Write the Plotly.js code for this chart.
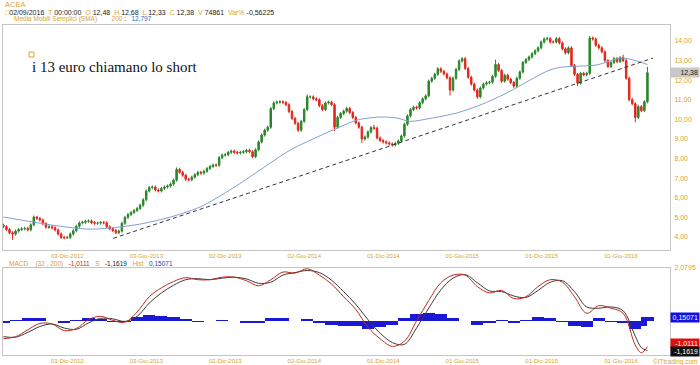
<!DOCTYPE html>
<html><head><meta charset="utf-8">
<script src="https://cdn.plot.ly/plotly-3.0.1.min.js"></script>
<style>html,body{margin:0;padding:0;background:#fff;}#chart{width:700px;height:365px;}</style>
</head><body><div id="chart"></div>
<script>
// ---------- data (weekly candles) ----------
const symbol = 'ACEA';
const candleDates = [
'2012-08-10','2012-08-17','2012-08-24','2012-08-31','2012-09-07','2012-09-14','2012-09-21','2012-09-28','2012-10-05','2012-10-12','2012-10-19','2012-10-26','2012-11-02','2012-11-09','2012-11-16','2012-11-23','2012-11-30','2012-12-07','2012-12-14','2012-12-21','2012-12-28',
'2013-01-04','2013-01-11','2013-01-18','2013-01-25','2013-02-01','2013-02-08','2013-02-15','2013-02-22','2013-03-01','2013-03-08','2013-03-15','2013-03-22','2013-03-29','2013-04-05','2013-04-12','2013-04-19','2013-04-26','2013-05-03','2013-05-10','2013-05-17','2013-05-24','2013-05-31','2013-06-07','2013-06-14','2013-06-21','2013-06-28','2013-07-05','2013-07-12','2013-07-19','2013-07-26','2013-08-02','2013-08-09','2013-08-16','2013-08-23','2013-08-30','2013-09-06','2013-09-13','2013-09-20','2013-09-27','2013-10-04','2013-10-11','2013-10-18','2013-10-25','2013-11-01','2013-11-08','2013-11-15','2013-11-22','2013-11-29','2013-12-06','2013-12-13','2013-12-20','2013-12-27',
'2014-01-03','2014-01-10','2014-01-17','2014-01-24','2014-01-31','2014-02-07','2014-02-14','2014-02-21','2014-02-28','2014-03-07','2014-03-14','2014-03-21','2014-03-28','2014-04-04','2014-04-11','2014-04-18','2014-04-25','2014-05-02','2014-05-09','2014-05-16','2014-05-23','2014-05-30','2014-06-06','2014-06-13','2014-06-20','2014-06-27','2014-07-04','2014-07-11','2014-07-18','2014-07-25','2014-08-01','2014-08-08','2014-08-15','2014-08-22','2014-08-29','2014-09-05','2014-09-12','2014-09-19','2014-09-26','2014-10-03','2014-10-10','2014-10-17','2014-10-24','2014-10-31','2014-11-07','2014-11-14','2014-11-21','2014-11-28','2014-12-05','2014-12-12','2014-12-19','2014-12-26',
'2015-01-02','2015-01-09','2015-01-16','2015-01-23','2015-01-30','2015-02-06','2015-02-13','2015-02-20','2015-02-27','2015-03-06','2015-03-13','2015-03-20','2015-03-27','2015-04-03','2015-04-10','2015-04-17','2015-04-24','2015-05-01','2015-05-08','2015-05-15','2015-05-22','2015-05-29','2015-06-05','2015-06-12','2015-06-19','2015-06-26','2015-07-03','2015-07-10','2015-07-17','2015-07-24','2015-07-31','2015-08-07','2015-08-14','2015-08-21','2015-08-28','2015-09-04','2015-09-11','2015-09-18','2015-09-25','2015-10-02','2015-10-09','2015-10-16','2015-10-23','2015-10-30','2015-11-06','2015-11-13','2015-11-20','2015-11-27','2015-12-04','2015-12-11','2015-12-18','2015-12-25',
'2016-01-01','2016-01-08','2016-01-15','2016-01-22','2016-01-29','2016-02-05','2016-02-12','2016-02-19','2016-02-26','2016-03-04','2016-03-11','2016-03-18','2016-03-25','2016-04-01','2016-04-08','2016-04-15','2016-04-22','2016-04-29','2016-05-06','2016-05-13','2016-05-20','2016-05-27','2016-06-03','2016-06-10','2016-06-17','2016-06-24','2016-07-01','2016-07-08','2016-07-15','2016-07-22','2016-07-29','2016-08-05','2016-08-12','2016-08-19','2016-08-26','2016-09-02'];
const openP = [4.60,4.53,4.38,4.22,4.15,4.30,4.38,4.42,4.44,4.37,
4.62,5.02,4.95,4.87,4.68,4.50,4.52,4.47,4.36,4.15,
3.98,3.96,3.98,4.15,4.32,4.55,4.72,4.75,4.80,4.82,
4.74,4.70,4.71,4.74,4.72,4.52,4.42,4.33,4.22,4.30,
4.70,5.00,5.15,5.25,5.35,5.46,5.62,5.90,6.35,6.52,
6.55,6.40,6.35,6.48,6.55,6.60,6.70,6.90,7.45,7.30,
7.15,6.95,6.92,7.05,7.18,7.30,7.26,7.35,7.50,7.60,
7.67,7.66,8.05,8.18,8.20,8.32,8.38,8.32,8.29,8.32,
8.35,8.42,8.35,8.10,8.45,8.85,9.20,9.45,9.60,10.55,
10.84,10.88,10.90,10.86,10.75,10.40,10.05,9.80,9.45,9.90,
10.50,11.15,11.15,11.05,11.00,10.70,10.50,10.84,10.88,10.75,
9.60,10.10,10.30,10.42,10.56,10.35,10.10,9.82,9.60,9.00,
9.10,9.36,9.58,9.55,9.05,8.92,8.85,8.80,8.75,8.70,
8.78,8.90,9.15,9.75,10.18,10.50,10.62,10.58,10.85,11.05,
11.20,11.95,12.10,12.30,12.58,12.45,12.32,12.12,11.50,12.10,
12.55,12.98,13.10,12.60,12.15,11.80,11.50,11.15,11.60,11.80,
11.87,11.90,12.20,12.80,12.50,11.95,12.25,12.05,11.88,11.70,
12.10,12.42,12.90,13.05,13.18,13.35,13.50,13.65,13.95,14.10,
14.12,13.95,13.95,14.12,13.90,13.60,13.40,13.65,12.75,12.30,
11.85,12.35,12.28,12.35,14.15,14.10,13.78,13.65,13.45,13.00,
12.70,12.90,13.10,12.95,13.15,13.00,12.10,11.00,10.80,10.10,
10.65,10.45,10.90];
const highP = [4.68,4.61,4.46,4.30,4.38,4.46,4.50,4.52,4.52,4.70,
5.10,5.08,5.03,4.95,4.76,4.60,4.60,4.55,4.44,4.23,
4.06,4.06,4.23,4.40,4.63,4.80,4.83,4.88,4.90,4.90,
4.82,4.79,4.82,4.82,4.80,4.60,4.50,4.41,4.38,4.78,
5.08,5.23,5.33,5.43,5.54,5.70,5.98,6.43,6.60,6.63,
6.63,6.48,6.56,6.63,6.68,6.78,6.98,7.55,7.53,7.38,
7.23,7.03,7.13,7.26,7.38,7.38,7.43,7.58,7.68,7.75,
7.75,8.13,8.26,8.28,8.40,8.46,8.46,8.40,8.40,8.43,
8.50,8.50,8.43,8.53,8.93,9.28,9.53,9.68,10.63,10.92,
10.96,10.98,10.98,10.94,10.83,10.48,10.13,9.88,9.98,10.58,
11.28,11.23,11.23,11.13,11.08,10.78,10.92,10.96,10.96,10.83,
10.18,10.38,10.50,10.64,10.64,10.43,10.18,9.90,9.68,9.18,
9.44,9.66,9.72,9.63,9.13,9.00,8.93,8.88,8.83,8.86,
8.98,9.23,9.83,10.26,10.58,10.70,10.70,10.93,11.13,11.28,
12.03,12.18,12.38,12.66,12.66,12.53,12.40,12.20,12.18,12.63,
13.06,13.18,13.18,12.68,12.23,11.88,11.58,11.68,11.88,11.95,
11.98,12.28,13.05,12.88,12.58,12.33,12.33,12.13,11.96,12.18,
12.50,12.98,13.13,13.26,13.43,13.58,13.73,14.03,14.18,14.22,
14.20,14.03,14.20,14.20,13.98,13.68,13.73,13.73,12.83,12.38,
12.43,12.43,12.43,14.25,14.23,14.18,13.86,13.73,13.53,13.08,
12.98,13.18,13.18,13.23,13.30,13.08,12.18,11.10,10.88,10.75,
10.73,10.98,12.68];
const lowP = [4.45,4.30,4.14,3.85,4.07,4.22,4.30,4.34,4.29,4.29,
4.54,4.87,4.79,4.60,4.42,4.42,4.39,4.28,4.07,3.90,
3.88,3.90,3.90,4.07,4.24,4.47,4.64,4.67,4.72,4.66,
4.62,4.62,4.63,4.64,4.44,4.34,4.25,4.14,4.14,4.22,
4.62,4.92,5.07,5.17,5.27,5.38,5.54,5.82,6.27,6.44,
6.32,6.27,6.27,6.40,6.47,6.52,6.62,6.82,7.22,7.07,
6.87,6.84,6.84,6.97,7.10,7.18,7.18,7.27,7.42,7.52,
7.58,7.58,7.97,8.10,8.12,8.24,8.24,8.21,8.21,8.24,
8.27,8.27,8.02,8.02,8.37,8.77,9.12,9.37,9.52,10.47,
10.76,10.80,10.78,10.67,10.32,9.97,9.72,9.36,9.37,9.82,
10.42,11.07,10.97,10.92,10.62,10.42,10.42,10.76,10.67,9.40,
9.52,10.02,10.22,10.34,10.27,10.02,9.74,9.52,8.80,8.92,
9.02,9.28,9.47,8.97,8.84,8.77,8.72,8.67,8.62,8.62,
8.70,8.82,9.07,9.67,10.10,10.42,10.50,10.50,10.77,10.97,
11.12,11.87,12.02,12.22,12.37,12.24,12.04,11.22,11.42,12.02,
12.47,12.90,12.52,12.07,11.72,11.42,11.05,11.07,11.52,11.72,
11.79,11.82,12.12,12.42,11.87,11.87,11.97,11.80,11.60,11.62,
12.02,12.34,12.82,12.97,13.10,13.27,13.42,13.57,13.87,14.02,
13.87,13.87,13.87,13.82,13.52,13.32,13.32,12.67,12.22,11.70,
11.77,12.20,12.20,12.27,14.02,13.70,13.57,13.37,12.92,12.62,
12.62,12.82,12.87,12.87,12.92,12.02,10.92,10.72,9.85,10.02,
10.37,10.37,10.82];
const closeP = [4.53,4.38,4.22,4.15,4.30,4.38,4.42,4.44,4.37,4.62,
5.02,4.95,4.87,4.68,4.50,4.52,4.47,4.36,4.15,3.98,
3.96,3.98,4.15,4.32,4.55,4.72,4.75,4.80,4.82,4.74,
4.70,4.71,4.74,4.72,4.52,4.42,4.33,4.22,4.30,4.70,
5.00,5.15,5.25,5.35,5.46,5.62,5.90,6.35,6.52,6.55,
6.40,6.35,6.48,6.55,6.60,6.70,6.90,7.45,7.30,7.15,
6.95,6.92,7.05,7.18,7.30,7.26,7.35,7.50,7.60,7.67,
7.66,8.05,8.18,8.20,8.32,8.38,8.32,8.29,8.32,8.35,
8.42,8.35,8.10,8.45,8.85,9.20,9.45,9.60,10.55,10.84,
10.88,10.90,10.86,10.75,10.40,10.05,9.80,9.45,9.90,10.50,
11.15,11.15,11.05,11.00,10.70,10.50,10.84,10.88,10.75,9.60,
10.10,10.30,10.42,10.56,10.35,10.10,9.82,9.60,9.00,9.10,
9.36,9.58,9.55,9.05,8.92,8.85,8.80,8.75,8.70,8.78,
8.90,9.15,9.75,10.18,10.50,10.62,10.58,10.85,11.05,11.20,
11.95,12.10,12.30,12.58,12.45,12.32,12.12,11.50,12.10,12.55,
12.98,13.10,12.60,12.15,11.80,11.50,11.15,11.60,11.80,11.87,
11.90,12.20,12.80,12.50,11.95,12.25,12.05,11.88,11.70,12.10,
12.42,12.90,13.05,13.18,13.35,13.50,13.65,13.95,14.10,14.12,
13.95,13.95,14.12,13.90,13.60,13.40,13.65,12.75,12.30,11.85,
12.35,12.28,12.35,14.15,14.10,13.78,13.65,13.45,13.00,12.70,
12.90,13.10,12.95,13.15,13.00,12.10,11.00,10.80,10.10,10.65,
10.45,10.90,12.38];

const smaDates = ['2012-08-10','2012-10-18','2013-01-04','2013-02-27','2013-04-30','2013-06-21','2013-08-22','2013-11-06','2014-01-21','2014-04-10','2014-06-02','2014-08-03','2014-09-25','2014-11-03','2014-12-26','2015-02-03','2015-03-05','2015-04-20','2015-06-21','2015-08-13','2015-10-14','2015-12-06','2016-01-21','2016-02-20','2016-03-30','2016-05-09','2016-06-14','2016-07-07','2016-08-09','2016-09-02'];
const smaVals = [5.02,4.76,4.50,4.40,4.50,4.66,4.97,5.53,6.50,7.67,8.44,9.10,9.62,9.97,10.12,10.07,9.90,10.05,10.33,10.73,11.35,12.00,12.52,12.67,12.72,12.78,13.03,13.13,12.98,12.80];

const trendDates = ['2013-04-20','2016-09-15'];
const trendVals = [3.93,13.13];

const macdDates = ['2012-08-10','2012-09-07','2012-10-05','2012-11-02','2012-11-30','2012-12-28','2013-01-25','2013-02-22','2013-03-22','2013-04-19','2013-05-17','2013-06-14','2013-07-12','2013-08-09','2013-09-06','2013-10-04','2013-11-01','2013-11-29','2013-12-27','2014-01-24','2014-02-21','2014-03-21','2014-04-18','2014-05-16','2014-06-13','2014-07-11','2014-08-08','2014-09-05','2014-10-03','2014-10-31','2014-11-28','2014-12-26','2015-01-23','2015-02-20','2015-03-20','2015-04-17','2015-05-15','2015-06-12','2015-07-10','2015-08-07','2015-09-04','2015-10-02','2015-10-30','2015-11-27','2015-12-25','2016-01-22','2016-02-19','2016-03-18','2016-04-15','2016-05-13','2016-06-10','2016-07-08','2016-08-05','2016-08-19','2016-09-02'];
const macdVals = [-0.70,-0.62,-0.35,-0.10,-0.12,-0.38,-0.30,0.05,0.18,0.02,-0.05,0.35,0.95,1.30,1.55,1.70,1.62,1.62,1.72,1.72,1.58,1.38,1.62,1.92,1.88,2.05,1.80,1.45,0.95,0.45,-0.25,-0.70,-1.00,-0.80,0.00,0.80,1.50,1.80,1.80,1.35,1.10,1.20,0.88,0.95,1.35,1.62,1.52,0.95,0.30,0.60,0.50,0.30,-0.95,-1.25,-1.0111];
const signalVals = [-0.62,-0.64,-0.45,-0.22,-0.12,-0.28,-0.33,-0.08,0.10,0.08,-0.02,0.18,0.70,1.10,1.40,1.62,1.66,1.62,1.68,1.72,1.65,1.48,1.52,1.80,1.90,1.98,1.90,1.60,1.15,0.65,0.05,-0.48,-0.85,-0.92,-0.28,0.50,1.22,1.68,1.82,1.50,1.18,1.15,0.98,0.92,1.20,1.52,1.58,1.15,0.55,0.50,0.55,0.40,-0.60,-1.05,-1.1619];
const histVals = [-0.08,0.02,0.10,0.12,0.00,-0.10,0.03,0.13,0.08,-0.06,-0.03,0.17,0.25,0.20,0.15,0.08,-0.04,0.00,0.04,0.00,-0.07,-0.10,0.10,0.12,-0.02,0.07,-0.10,-0.15,-0.20,-0.20,-0.30,-0.22,-0.15,0.12,0.28,0.30,0.28,0.12,-0.02,-0.15,-0.08,0.05,-0.10,0.03,0.15,0.10,-0.06,-0.20,-0.25,0.10,-0.05,-0.10,-0.30,-0.20,0.15071];
const macdMax = 2.0795;
const macdMin = -1.34;
const smaLast = 12.797;

const xTickVals = ['2012-12-03','2013-06-03','2013-12-02','2014-06-02','2014-12-01','2015-06-01','2015-12-01','2016-06-01'];
const xTickText = ['03-Dic-2012','03-Giu-2013','02-Dic-2013','02-Giu-2014','01-Dic-2014','01-Giu-2015','01-Dic-2015','01-Giu-2016'];
const priceTicks = [4,5,6,7,8,9,10,11,12,13,14];

const header = {date:'02/09/2016', time:'00:00:00', o:'12,48', h:'12,68', l:'12,33', c:'12,38', v:'74861', varPct:'-0,56225'};
const noteText = 'i 13 euro chiamano lo short';

// ---------- drawing ----------
const gold = '#d6a431';
const fmt = (v, d) => v.toFixed(d).replace('.', ',');
const n = closeP.length;
const last = a => a[a.length - 1];
const histBarWidth = 28 * 24 * 3600 * 1000; // bar width in ms (style)

const traces = [
  {type:'candlestick', x:candleDates, open:openP, high:highP, low:lowP, close:closeP,
   xaxis:'x', yaxis:'y', whiskerwidth:0,
   increasing:{line:{color:'#2a862a', width:1}, fillcolor:'#2a862a'},
   decreasing:{line:{color:'#e2271d', width:1}, fillcolor:'#e2271d'},
   hoverinfo:'skip'},
  {type:'scatter', mode:'lines', x:smaDates, y:smaVals, xaxis:'x', yaxis:'y',
   line:{color:'#7f9fd0', width:1, shape:'spline', smoothing:0.8}, hoverinfo:'skip'},
  {type:'scatter', mode:'lines', x:trendDates, y:trendVals, xaxis:'x', yaxis:'y',
   line:{color:'#333333', width:1, dash:'4px,3px'}, hoverinfo:'skip'},
  {type:'bar', x:macdDates, y:histVals, xaxis:'x2', yaxis:'y2', width:histBarWidth,
   marker:{color:'#1a1ad6', line:{width:0}}, hoverinfo:'skip'},
  {type:'scatter', mode:'lines', x:macdDates, y:signalVals, xaxis:'x2', yaxis:'y2',
   line:{color:'#3a3a3a', width:1, shape:'spline', smoothing:1}, hoverinfo:'skip'},
  {type:'scatter', mode:'lines', x:macdDates, y:macdVals, xaxis:'x2', yaxis:'y2',
   line:{color:'#c0281e', width:1, shape:'spline', smoothing:1}, hoverinfo:'skip'}
];

const g = s => '<span style="color:' + gold + '">' + s + '</span>';
const d = s => '<span style="color:#222">' + s + '</span>';

const line2 = g('□') + d(header.date) + '  ' + g('T') + ' ' + d(header.time) + '  ' + g('O') + ' ' + d(header.o) + '  ' +
  g('H') + ' ' + d(header.h) + '  ' + g('L') + ' ' + d(header.l) + '  ' + g('C') + ' ' + d(header.c) + '  ' +
  g('V') + ' ' + d(header.v) + '  ' + g('Var%') + ' ' + d(header.varPct);
const line3 = g('Media Mobili Semplici (SMA)') + '        ' + g(String(200)) + ' ' + d(':') + '   ' +
  '<span style="color:#3a66c4">' + fmt(smaLast, 3) + '</span>';
const line4 = g('MACD') + '    ' + g('(32 , 200)') + '   ' + '<span style="color:#c0281e">' + fmt(last(macdVals), 4) + '</span>' +
  '   ' + g('S') + '   ' + d(fmt(last(signalVals), 4)) + '   ' + g('Hist') + '   ' +
  '<span style="color:#2040c0">' + fmt(last(histVals), 5) + '</span>';

const axBase = {showgrid:false, zeroline:false, showline:true, mirror:true, linecolor:'#c4c4c4', linewidth:1, ticks:''};

const layout = {
  width:700, height:365,
  margin:{l:3, r:30, t:25, b:10},
  paper_bgcolor:'#ffffff', plot_bgcolor:'#ffffff',
  showlegend:false, separators:',.', bargap:0,
  font:{family:'Liberation Sans, Arial, sans-serif', size:7, color:gold},
  xaxis:Object.assign({}, axBase, {type:'date', range:['2012-08-09','2016-10-24'], anchor:'y',
    tickvals:xTickVals, ticktext:xTickText, tickfont:{size:6, color:gold},
    rangeslider:{visible:false}, ticklabelshift:14, ticklabelstandoff:0}),
  yaxis:Object.assign({}, axBase, {domain:[0.3182,1], range:[3.337,14.816], side:'right',
    tickvals:priceTicks, tickformat:'.2f', tickfont:{size:7, color:gold}, ticklabelstandoff:2}),
  xaxis2:Object.assign({}, axBase, {type:'date', matches:'x', anchor:'y2',
    tickvals:xTickVals, ticktext:xTickText, tickfont:{size:6, color:gold}, ticklabelshift:14, ticklabelstandoff:0}),
  yaxis2:Object.assign({}, axBase, {domain:[0,0.2636], range:[macdMin, macdMax], side:'right',
    tickvals:[macdMax], tickformat:'.4f', tickfont:{size:7, color:gold}, ticklabelstandoff:2}),
  shapes:[
    {type:'rect', xref:'paper', yref:'paper', x0:0.039, x1:0.0465, y0:0.903, y1:0.918,
     line:{color:'#d6a431', width:1}, fillcolor:'rgba(0,0,0,0)'}
  ],
  annotations:[
    {xref:'paper', yref:'paper', x:0, y:1.062, xanchor:'left', yanchor:'middle', showarrow:false,
     text:symbol, font:{size:7.5, color:'#e0a040'}},
    {xref:'paper', yref:'paper', x:0, y:1.039, xanchor:'left', yanchor:'middle', showarrow:false,
     text:line2, font:{size:7}},
    {xref:'paper', yref:'paper', x:0.0135, y:1.017, xanchor:'left', yanchor:'middle', showarrow:false,
     text:line3, font:{size:6.5}},
    {xref:'paper', yref:'paper', x:0.006, y:0.2745, xanchor:'left', yanchor:'middle', showarrow:false,
     text:line4, font:{size:6.5}},
    {xref:'paper', yref:'paper', x:0.0405, y:0.8727, xanchor:'left', yanchor:'middle', showarrow:false,
     text:noteText, font:{family:'Liberation Serif, Times New Roman, serif', size:15, color:'#111'}},
    {xref:'paper', yref:'y', x:1, y:closeP[n-1], xanchor:'left', yanchor:'middle', showarrow:false,
     text:fmt(closeP[n-1], 2), width:26, align:'right', bgcolor:'#c8c8c8', font:{size:7, color:'#222'}},
    {xref:'paper', yref:'y2', x:1, y:last(histVals), xanchor:'left', yanchor:'middle', showarrow:false,
     text:fmt(last(histVals), 5), width:26, align:'right', bgcolor:'#1010e0', font:{size:7, color:'#fff'}},
    {xref:'paper', yref:'y2', x:1, y:last(macdVals), yshift:3, xanchor:'left', yanchor:'middle', showarrow:false,
     text:fmt(last(macdVals), 4), width:26, align:'right', bgcolor:'#e01010', font:{size:7, color:'#fff'}},
    {xref:'paper', yref:'y2', x:1, y:last(signalVals), yshift:-1, xanchor:'left', yanchor:'middle', showarrow:false,
     text:fmt(last(signalVals), 4), width:26, align:'right', bgcolor:'#111', font:{size:7, color:'#fff'}},
    {xref:'paper', yref:'paper', x:1.045, y:-0.021, xanchor:'right', yanchor:'middle', showarrow:false,
     text:'©ITtrading.com', font:{size:6.5, color:gold}}
  ]
};

Plotly.newPlot('chart', traces, layout, {displayModeBar:false, staticPlot:true});
</script></body></html>
